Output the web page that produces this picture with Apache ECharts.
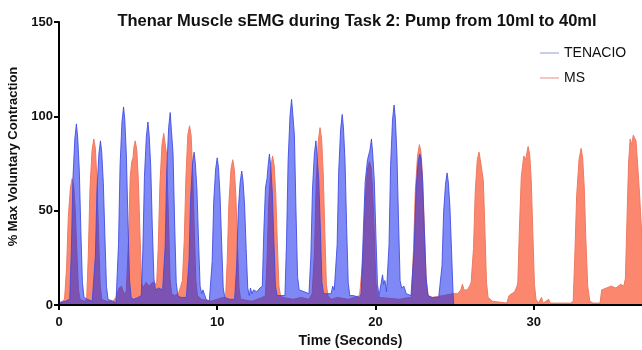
<!DOCTYPE html>
<html>
<head>
<meta charset="utf-8">
<script src="https://cdn.jsdelivr.net/npm/echarts@6/dist/echarts.min.js"></script>
<style>
  html, body { margin: 0; padding: 0; background: #fff; }
  #chart { width: 642px; height: 350px; }
</style>
</head>
<body>
<div id="chart"></div>
<script>
// [time (s), % MVC]
const tenacioPoints = [
  [0, 1], [0.4, 2], [0.68, 3], [0.78, 29], [0.88, 67], [1.0, 88], [1.1, 96], [1.18, 89], [1.28, 72], [1.38, 40], [1.48, 12], [1.58, 4], [1.8, 3], [2.1, 2],
  [2.2, 2], [2.3, 26], [2.4, 61], [2.52, 80], [2.62, 87], [2.7, 81], [2.8, 65], [2.9, 37], [3.0, 10], [3.1, 3], [3.4, 2], [3.6, 1],
  [3.66, 2], [3.76, 32], [3.86, 74], [3.98, 97], [4.08, 105], [4.16, 98], [4.26, 79], [4.36, 44], [4.46, 13], [4.56, 4], [4.7, 3], [5.0, 4],
  [5.2, 5], [5.3, 29], [5.4, 68], [5.52, 89], [5.62, 97], [5.7, 90], [5.8, 73], [5.9, 41], [6.0, 14], [6.1, 8], [6.3, 9], [6.55, 8],
  [6.61, 8], [6.71, 31], [6.81, 71], [6.93, 94], [7.03, 102], [7.11, 92], [7.21, 80], [7.31, 43], [7.41, 12], [7.51, 5], [7.7, 4], [8.05, 4],
  [8.12, 4], [8.22, 24], [8.32, 57], [8.44, 75], [8.54, 81], [8.62, 75], [8.72, 61], [8.82, 34], [8.92, 10], [9.02, 6], [9.1, 8], [9.2, 7], [9.3, 3], [9.5, 2],
  [9.58, 2], [9.68, 23], [9.78, 55], [9.9, 72], [10.0, 78], [10.08, 73], [10.18, 58], [10.28, 33], [10.38, 9], [10.48, 4], [10.8, 3], [11.1, 3],
  [11.13, 3], [11.23, 21], [11.33, 50], [11.45, 65], [11.55, 71], [11.63, 66], [11.73, 53], [11.83, 30], [11.93, 9], [12.03, 5],
  [12.1, 9], [12.2, 6], [12.3, 8], [12.5, 7], [12.7, 9],
  [12.85, 10], [12.95, 40], [13.05, 62], [13.15, 67], [13.22, 74], [13.3, 80], [13.38, 74], [13.48, 60], [13.58, 34], [13.68, 10], [13.78, 5], [14.1, 5],
  [14.28, 5], [14.38, 33], [14.48, 76], [14.6, 100], [14.7, 109], [14.78, 101], [14.88, 90], [14.98, 50], [15.08, 15], [15.18, 8],
  [15.3, 8], [15.5, 7], [15.8, 6],
  [15.82, 7], [15.92, 26], [16.02, 61], [16.14, 80], [16.24, 87], [16.32, 78], [16.42, 66], [16.52, 40], [16.62, 12], [16.72, 6],
  [17.2, 6], [17.3, 10], [17.4, 8], [17.45, 9],
  [17.48, 9], [17.58, 32], [17.68, 71], [17.8, 93], [17.9, 101], [17.98, 94], [18.08, 76], [18.18, 42], [18.28, 12], [18.38, 5], [18.6, 5], [19.0, 4],
  [19.1, 6], [19.22, 35], [19.35, 65], [19.5, 77], [19.65, 82], [19.75, 88], [19.83, 80], [19.93, 66], [20.03, 37], [20.13, 11], [20.23, 5],
  [20.33, 5], [20.45, 16], [20.52, 11], [20.6, 13], [20.7, 7], [20.75, 8],
  [20.76, 8], [20.86, 32], [20.96, 74], [21.08, 98], [21.18, 106], [21.26, 99], [21.36, 80], [21.46, 45], [21.56, 13], [21.66, 9],
  [21.8, 10], [21.95, 6], [22.25, 5],
  [22.33, 5], [22.45, 30], [22.57, 62], [22.7, 76], [22.8, 80], [22.88, 78], [22.98, 66], [23.08, 42], [23.2, 15], [23.32, 5], [23.6, 4], [24.0, 4],
  [24.11, 4], [24.21, 21], [24.31, 49], [24.43, 64], [24.53, 70], [24.61, 65], [24.71, 52], [24.81, 29], [24.9, 8], [24.95, 0]
];

const msPoints = [
  [0, 1], [0.2, 2], [0.35, 3], [0.48, 20], [0.59, 47], [0.72, 62], [0.83, 67], [0.93, 63], [1.03, 50], [1.13, 28], [1.23, 8], [1.33, 3], [1.6, 2],
  [1.75, 3], [1.85, 26], [1.96, 62], [2.09, 82], [2.2, 88], [2.3, 83], [2.4, 66], [2.5, 37], [2.6, 11], [2.7, 3],
  [3.0, 2], [3.4, 2], [3.6, 4], [3.8, 9], [3.95, 10], [4.1, 6], [4.25, 7],
  [4.3, 7], [4.4, 35], [4.5, 68], [4.6, 76], [4.68, 78], [4.74, 84], [4.82, 87], [4.92, 82], [5.02, 65], [5.12, 37], [5.22, 12], [5.32, 9],
  [5.5, 12], [5.7, 10], [5.9, 12], [6.0, 11],
  [6.17, 11], [6.27, 30], [6.38, 64], [6.51, 85], [6.62, 91], [6.7, 86], [6.8, 80], [6.92, 45], [7.02, 14], [7.12, 6],
  [7.3, 5], [7.55, 6], [7.7, 10], [7.8, 13],
  [7.82, 14], [7.92, 35], [8.02, 67], [8.14, 90], [8.25, 95], [8.35, 90], [8.45, 71], [8.55, 40], [8.65, 13], [8.75, 5],
  [9.0, 3], [9.6, 2], [10.35, 4],
  [10.53, 4], [10.63, 23], [10.74, 54], [10.87, 72], [10.98, 77], [11.08, 72], [11.18, 58], [11.28, 32], [11.38, 9], [11.48, 3],
  [12.2, 2], [12.85, 4],
  [13.05, 5], [13.15, 24], [13.26, 55], [13.39, 73], [13.5, 79], [13.6, 74], [13.7, 59], [13.8, 33], [13.9, 10], [14.0, 5],
  [14.15, 4], [14.8, 3], [15.3, 4], [15.8, 3], [16.0, 6],
  [16.05, 6], [16.15, 28], [16.26, 66], [16.39, 87], [16.5, 94], [16.6, 88], [16.7, 70], [16.8, 39], [16.9, 11], [17.0, 5],
  [17.2, 3], [17.6, 4], [18.3, 3], [19.0, 5],
  [19.12, 5], [19.24, 28], [19.36, 55], [19.5, 72], [19.62, 76], [19.72, 73], [19.82, 62], [19.93, 38], [20.03, 12], [20.13, 5],
  [20.3, 4], [21.5, 3], [22.15, 4],
  [22.28, 4], [22.4, 28], [22.52, 60], [22.66, 79], [22.78, 85], [22.88, 81], [22.98, 68], [23.1, 40], [23.22, 12], [23.34, 5],
  [23.55, 4], [24.3, 5], [24.9, 6], [25.2, 6], [25.4, 8], [25.5, 11], [25.6, 8], [25.8, 8], [25.95, 10], [26.05, 12],
  [26.1, 12], [26.2, 30], [26.31, 60], [26.44, 77], [26.55, 81], [26.63, 77], [26.72, 78], [26.82, 66], [26.92, 40], [27.02, 12], [27.12, 4],
  [27.4, 2], [28.3, 1], [28.45, 5], [28.8, 7], [28.95, 10],
  [29.0, 12], [29.1, 40], [29.22, 68], [29.38, 79], [29.5, 77], [29.65, 84], [29.75, 80], [29.85, 66], [29.95, 38], [30.05, 11], [30.15, 3],
  [30.3, 1], [30.5, 4], [30.6, 1], [30.95, 3], [31.05, 1], [32.35, 1],
  [32.5, 2], [32.6, 25], [32.72, 58], [32.87, 77], [33.0, 83], [33.1, 78], [33.2, 62], [33.3, 35], [33.42, 10], [33.55, 2], [33.75, 1], [34.2, 1],
  [34.3, 8], [34.6, 9], [34.9, 10], [35.2, 9], [35.5, 11], [35.7, 10],
  [35.8, 14], [35.9, 45], [36.0, 75], [36.1, 88], [36.2, 85], [36.3, 90], [36.37, 91], [36.47, 87], [36.57, 75], [36.7, 58], [36.85, 35], [37, 18]
];

const xTicks = [0, 10, 20, 30];
const yTicks = [0, 50, 100, 150];

const FONT = '"Liberation Sans", Arial, Helvetica, sans-serif';

const chart = echarts.init(document.getElementById('chart'));

chart.setOption({
  animation: false,
  backgroundColor: '#fff',
  textStyle: { fontFamily: FONT },
  title: {
    text: 'Thenar Muscle sEMG during Task 2: Pump from 10ml to 40ml',
    left: 352,
    top: 8,
    textAlign: 'center',
    textStyle: { fontFamily: FONT, fontSize: 16.5, fontWeight: 'bold', color: '#111' },
  },
  legend: {
    orient: 'vertical',
    left: 535,
    top: 40,
    itemWidth: 19,
    itemHeight: 1.5,
    itemGap: 9,
    data: [
      { name: 'TENACIO', icon: 'rect', itemStyle: { color: '#b8bde0' } },
      { name: 'MS', icon: 'rect', itemStyle: { color: '#f2b3ad' } },
    ],
    textStyle: { fontFamily: FONT, fontSize: 14, color: '#111', lineHeight: 16 },
  },
  grid: { left: 59, right: 0, top: 22, bottom: 45, outerBoundsMode: 'none' },
  xAxis: {
    type: 'value',
    min: 0,
    max: 36.85,
    interval: 10,
    z: 10,
    name: 'Time (Seconds)',
    nameLocation: 'middle',
    nameGap: 29,
    nameTextStyle: { fontFamily: FONT, fontSize: 14, fontWeight: 'bold', color: '#111' },
    axisLine: { lineStyle: { color: '#000', width: 2 } },
    axisTick: { length: 5, lineStyle: { color: '#000', width: 2 }, customValues: xTicks },
    axisLabel: { margin: 11, fontFamily: FONT, fontSize: 13, fontWeight: 'bold', color: '#111', customValues: xTicks },
    splitLine: { show: false },
  },
  yAxis: {
    type: 'value',
    min: 0,
    max: 150,
    interval: 50,
    z: 10,
    name: '% Max Voluntary Contraction',
    nameLocation: 'middle',
    nameGap: 37,
    nameTextStyle: { fontFamily: FONT, fontSize: 13, fontWeight: 'bold', color: '#111', padding: [0, 0, 0, 14] },
    axisLine: { show: true, lineStyle: { color: '#000', width: 2 } },
    axisTick: { show: true, length: 5, lineStyle: { color: '#000', width: 2 }, customValues: yTicks },
    axisLabel: { margin: 6, fontFamily: FONT, fontSize: 13, fontWeight: 'bold', color: '#111', customValues: yTicks },
    splitLine: { show: false },
  },
  series: [
    {
      name: 'MS',
      type: 'line',
      data: msPoints,
      symbol: 'none',
      clip: true,
      lineStyle: { color: '#ee7a62', width: 1 },
      itemStyle: { color: '#f2b3ad' },
      areaStyle: { color: '#fa876e', opacity: 1 },
      z: 2,
    },
    {
      name: 'TENACIO',
      type: 'line',
      data: tenacioPoints,
      symbol: 'none',
      clip: true,
      lineStyle: { color: 'rgba(60,72,225,0.85)', width: 1 },
      itemStyle: { color: '#b8bde0' },
      areaStyle: { color: 'rgb(20,40,237)', opacity: 0.55 },
      z: 3,
    },
  ],
});
</script>
</body>
</html>
